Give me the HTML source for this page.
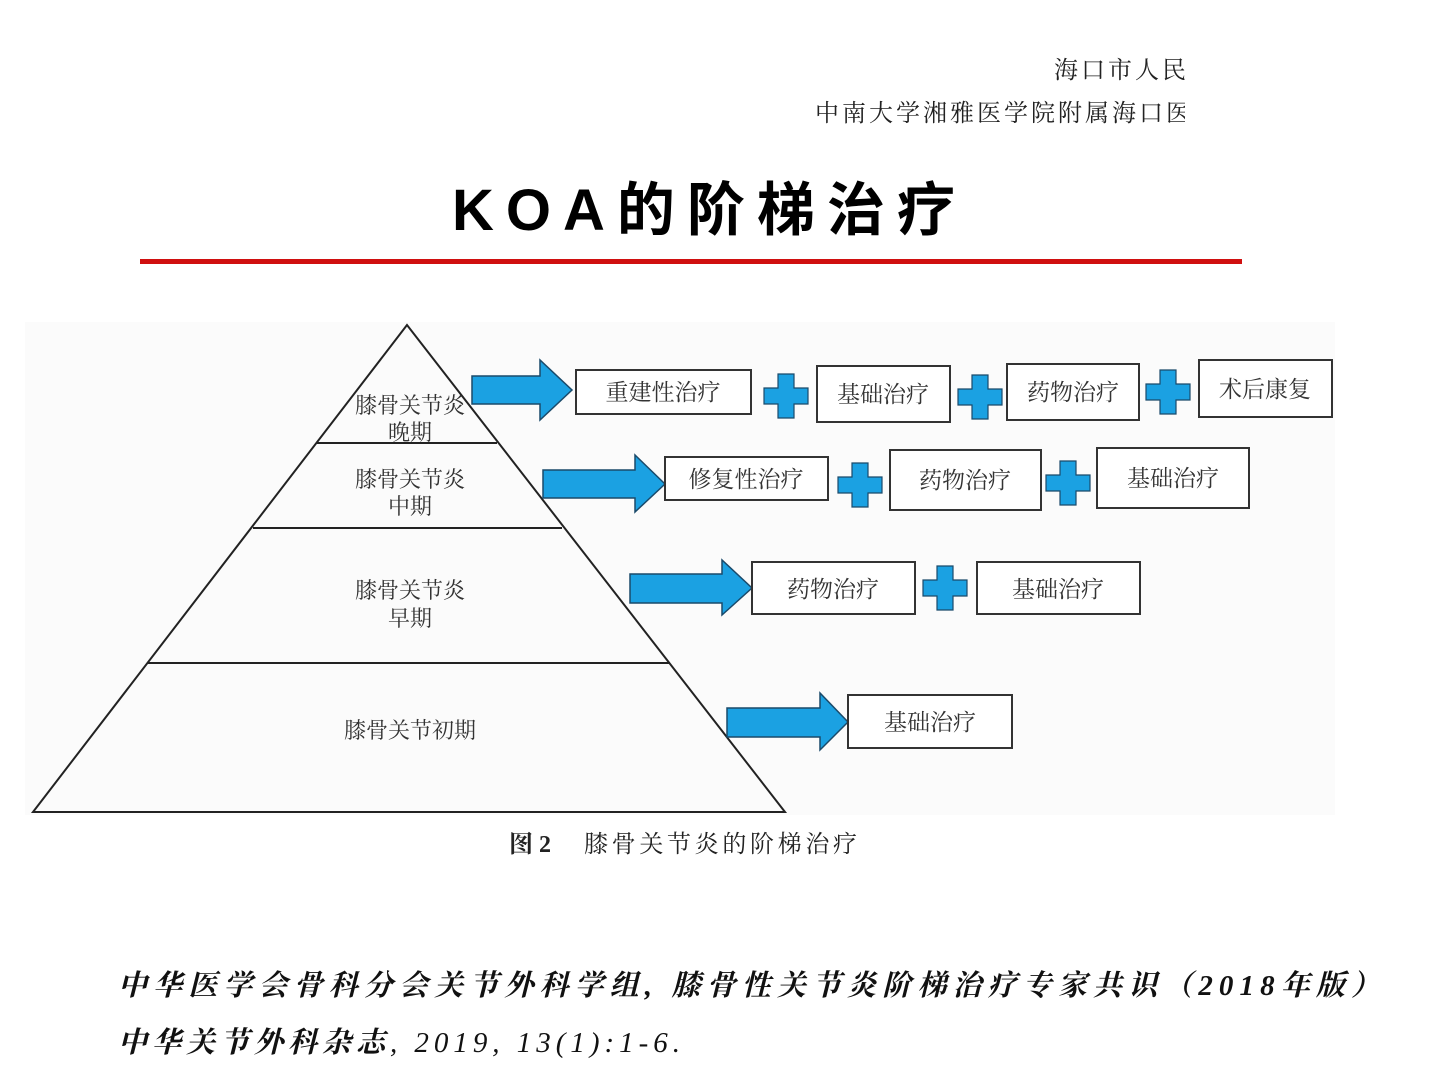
<!DOCTYPE html>
<html><head><meta charset="utf-8"><style>
body{margin:0;width:1440px;height:1080px;background:#fff;position:relative;overflow:hidden;font-family:"Liberation Serif","Noto Serif CJK SC",serif;}
.a{position:absolute;white-space:nowrap;}
</style></head><body>
<div class="a" style="left:1054px;top:50px;width:131px;overflow:hidden;font-size:24px;letter-spacing:3px;color:#222">海口市人民医院</div>
<div class="a" style="left:815px;top:93px;width:370px;overflow:hidden;font-size:24px;letter-spacing:3px;color:#222">中南大学湘雅医学院附属海口医院</div>
<svg class="a" style="left:0;top:0" width="1440" height="1080" font-family="Liberation Serif, Noto Serif CJK SC, serif">
<text x="452" y="230" font-family="Liberation Sans, Noto Sans CJK SC, sans-serif" font-weight="bold" font-size="58" textLength="503" lengthAdjust="spacing" fill="#000">KOA的阶梯治疗</text>
<rect x="140" y="259" width="1102" height="5" fill="#d01010"/>
<rect x="25" y="322" width="1310" height="493" fill="#fbfbfb"/>
<g stroke="#222" stroke-width="2" fill="none">
<polygon points="407,325 33,812 785,812"/>
<line x1="317" y1="443" x2="497" y2="443"/>
<line x1="253" y1="528" x2="562" y2="528"/>
<line x1="148" y1="663" x2="670" y2="663"/>
</g>
<g font-size="22" fill="#333" text-anchor="middle">
<text x="410" y="413">膝骨关节炎</text><text x="410" y="440">晚期</text>
<text x="410" y="487">膝骨关节炎</text><text x="410" y="514">中期</text>
<text x="410" y="598">膝骨关节炎</text><text x="410" y="626">早期</text>
<text x="410" y="738">膝骨关节初期</text>
</g>
<g fill="#1ba1e2" stroke="#1a4a6a" stroke-width="1.5">
<polygon points="472,376 540,376 540,360 572,390 540,420 540,404 472,404"/>
<polygon points="543,470 635,470 635,455 665,484 635,512 635,498 543,498"/>
<polygon points="630,574 722,574 722,560 752,588 722,615 722,603 630,603"/>
<polygon points="727,708 820,708 820,693 848,722 820,750 820,737 727,737"/>
</g>
<g fill="#1ba1e2" stroke="#1a4a6a" stroke-width="1.2">
<path id="p" d="M-8,-22 h16 v14 h14 v16 h-14 v14 h-16 v-14 h-14 v-16 h14 z" transform="translate(786,396)"/>
<use href="#p" transform="translate(194,1)"/>
<use href="#p" transform="translate(382,-4)"/>
<use href="#p" transform="translate(74,89)"/>
<use href="#p" transform="translate(282,87)"/>
<use href="#p" transform="translate(159,192)"/>
</g>
<g fill="#fff" stroke="#333" stroke-width="2">
<rect x="576" y="370" width="175" height="44"/><rect x="817" y="366" width="133" height="56"/>
<rect x="1007" y="364" width="132" height="56"/><rect x="1199" y="360" width="133" height="57"/>
<rect x="665" y="457" width="163" height="43"/><rect x="890" y="450" width="151" height="60"/>
<rect x="1097" y="448" width="152" height="60"/>
<rect x="752" y="562" width="163" height="52"/><rect x="977" y="562" width="163" height="52"/>
<rect x="848" y="695" width="164" height="53"/>
</g>
<g font-size="23" fill="#333" text-anchor="middle">
<text x="663" y="400">重建性治疗</text><text x="883" y="402">基础治疗</text>
<text x="1073" y="400">药物治疗</text><text x="1265" y="397">术后康复</text>
<text x="746" y="487">修复性治疗</text><text x="965" y="488">药物治疗</text>
<text x="1173" y="486">基础治疗</text>
<text x="833" y="597">药物治疗</text><text x="1058" y="597">基础治疗</text>
<text x="930" y="730">基础治疗</text>
</g>
<text x="509" y="852" font-size="24" fill="#222" font-weight="bold">图 2</text>
<text x="584" y="852" font-size="24" fill="#222" textLength="273" lengthAdjust="spacing">膝骨关节炎的阶梯治疗</text>
<g font-size="29" font-style="italic" fill="#111">
<text x="118" y="995" font-weight="bold" textLength="1262" lengthAdjust="spacing">中华医学会骨科分会关节外科学组, 膝骨性关节炎阶梯治疗专家共识（2018年版）</text>
<text x="118" y="1052" textLength="562" lengthAdjust="spacing"><tspan font-weight="bold">中华关节外科杂志</tspan>, 2019, 13(1):1-6.</text>
</g>
</svg>
</body></html>
